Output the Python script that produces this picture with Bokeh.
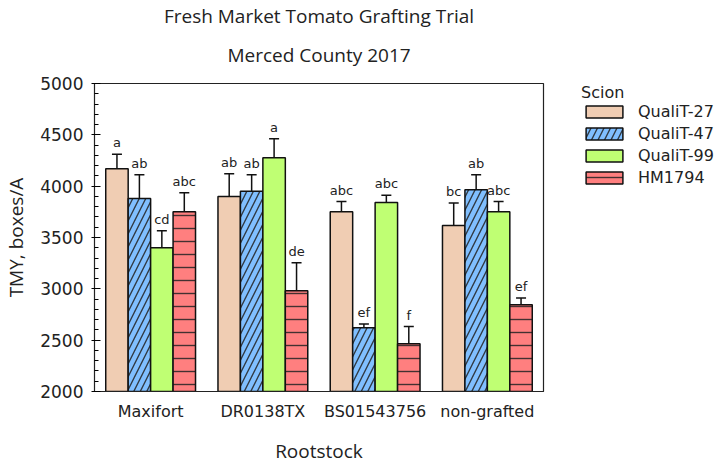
from bokeh.plotting import figure
from bokeh.models import (ColumnDataSource, FactorRange, Range1d, SingleIntervalTicker,
                          Legend, LegendItem, Title)
from bokeh.transform import dodge
from bokeh.core.properties import value
from bokeh.embed import file_html
from bokeh.resources import INLINE

rootstocks = ["Maxifort", "DR0138TX", "BS01543756", "non-grafted"]
scions = ["QualiT-27", "QualiT-47", "QualiT-99", "HM1794"]

q27 = [4170, 3900, 3752, 3616]
q27_err = [140, 222, 98, 221]
q27_grp = ["a", "ab", "abc", "bc"]

q47 = [3880, 3950, 2620, 3965]
q47_err = [230, 160, 38, 145]
q47_grp = ["ab", "ab", "ef", "ab"]

q99 = [3400, 4276, 3840, 3752]
q99_err = [165, 185, 71, 98]
q99_grp = ["cd", "a", "abc", "abc"]

hm = [3752, 2982, 2466, 2846]
hm_err = [183, 273, 166, 65]
hm_grp = ["abc", "de", "f", "ef"]

series = [(q27, q27_err, q27_grp), (q47, q47_err, q47_grp),
          (q99, q99_err, q99_grp), (hm, hm_err, hm_grp)]
colors = ["#F0CDB3", "#80BFFF", "#BFFF73", "#FF7F7F"]
hatches = [" ", "/", " ", "-"]
offsets = [-0.3, -0.1, 0.1, 0.3]

LABEL_FONT = "DejaVu Sans"
TITLE_FONT = "Open Sans"

p = figure(x_range=FactorRange(factors=rootstocks, range_padding=0),
           y_range=Range1d(2000, 5000),
           frame_width=449, frame_height=308,
           output_backend="svg", toolbar_location=None,
           min_border_left=10, min_border_right=10, min_border_top=0,
           min_border_bottom=70)

p.title.text = "Fresh Market Tomato Grafting Trial"
p.title.align = "center"
p.title.text_font = TITLE_FONT
p.title.text_font_size = "19px"
p.title.text_font_style = "normal"
p.title.text_color = "#222222"
p.title.vertical_align = "bottom"
p.title.standoff = 0
p.add_layout(Title(text="Merced County 2017", align="center", vertical_align="top",
                   text_font=TITLE_FONT, text_font_size="19px",
                   text_font_style="normal", text_color="#222222", standoff=27), "above")

items = []
for i, ((vals, errs, grps), col, hat, off) in enumerate(zip(series, colors, hatches, offsets)):
    src = ColumnDataSource(dict(
        root=rootstocks, val=vals,
        upper=[v + e for v, e in zip(vals, errs)],
        grp=grps))
    x = dodge("root", off, range=p.x_range)
    r = p.vbar(x=x, top="val", bottom=2000, width=0.2, source=src,
               fill_color=col, line_color="#111111", line_width=1.5,
               hatch_pattern=hat, hatch_color="#222222", hatch_alpha=0.85,
               hatch_weight=1.4, hatch_scale=13)
    p.segment(x0=x, y0="val", x1=x, y1="upper", source=src,
              line_color="#111111", line_width=1.5)
    p.scatter(x=x, y="upper", marker="dash", size=10, source=src,
              line_color="#111111", line_width=1.5)
    p.text(x=x, y="upper", text="grp", source=src, y_offset=-4,
           text_align="center", text_baseline="bottom",
           text_font=value(LABEL_FONT), text_font_size="13px", text_color="#222222")
    items.append(LegendItem(label=scions[i], renderers=[r]))

legend = Legend(items=items, title="Scion", location=(38, 204),
                title_text_font=LABEL_FONT, title_text_font_size="16px",
                title_text_font_style="normal", title_text_color="#222222",
                label_text_font=LABEL_FONT, label_text_font_size="16px",
                label_text_color="#222222",
                glyph_width=46, glyph_height=15, spacing=3, title_standoff=0,
                border_line_alpha=0, background_fill_alpha=0,
                margin=0, padding=0, label_standoff=11)
p.add_layout(legend, "right")

p.xgrid.visible = False
p.ygrid.visible = False
p.outline_line_color = "#222222"
p.outline_line_width = 1.2

p.yaxis.ticker = SingleIntervalTicker(interval=500, num_minor_ticks=5)
p.yaxis.axis_label = "TMY, boxes/A"
p.xaxis.axis_label = "Rootstock"
for ax in (p.xaxis[0], p.yaxis[0]):
    ax.axis_label_text_font = TITLE_FONT
    ax.axis_label_text_font_size = "19px"
    ax.axis_label_text_font_style = "normal"
    ax.axis_label_text_color = "#222222"
    ax.major_label_text_font = LABEL_FONT
    ax.major_label_text_color = "#222222"
    ax.axis_line_color = "#222222"
p.yaxis.major_label_text_font_size = "17px"
p.xaxis.major_label_text_font_size = "16px"
p.yaxis.major_tick_in = 6
p.yaxis.major_tick_out = 3
p.yaxis.minor_tick_in = 4
p.yaxis.minor_tick_out = 0
p.yaxis.major_label_standoff = 8
p.yaxis.axis_label_standoff = 8
p.xaxis.major_tick_line_color = None
p.xaxis.minor_tick_line_color = None
p.xaxis.major_label_standoff = 4
p.xaxis.axis_label_standoff = 14

open("out.html", "w").write(file_html(p, INLINE))
